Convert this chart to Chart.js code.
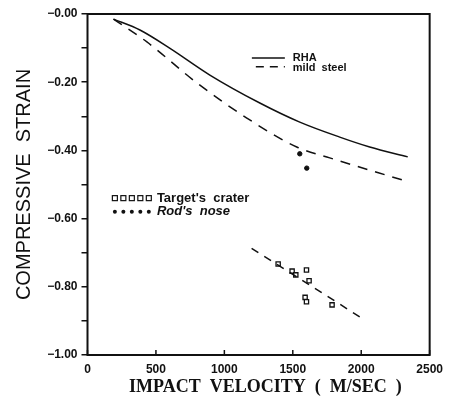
<!DOCTYPE html>
<html>
<head>
<meta charset="utf-8">
<script src="https://cdn.jsdelivr.net/npm/chart.js@4"></script>
<style>
  html, body { margin: 0; padding: 0; background: #fff; }
  canvas { display: block; }
</style>
</head>
<body>
<canvas id="strainChart" width="450" height="407"></canvas>
<script>
// values
const rhaVelocity = [190, 383, 600, 894, 1259, 1551, 1843, 2062, 2340];
const rhaStrain = [-0.015, -0.047, -0.1, -0.179, -0.261, -0.317, -0.361, -0.39, -0.419];

const mildVelocity = [190, 434, 799, 1164, 1529, 1770, 2303];
const mildStrain = [-0.015, -0.082, -0.202, -0.305, -0.39, -0.422, -0.487];

const craterVelocity = [1393, 1495, 1522, 1600, 1619, 1590, 1600, 1787];
const craterStrain = [-0.733, -0.754, -0.765, -0.751, -0.782, -0.831, -0.844, -0.853];

const craterFitVelocity = [1199, 1989];
const craterFitStrain = [-0.687, -0.888];

const noseVelocity = [1551, 1602];
const noseStrain = [-0.41, -0.452];

const xTickValues = [0, 500, 1000, 1500, 2000, 2500];
const xTickLabels = ['0', '500', '1000', '1500', '2000', '2500'];
const yTickValues = [0, -0.2, -0.4, -0.6, -0.8, -1.0];
const yTickLabels = ['\u22120.00', '\u22120.20', '\u22120.40', '\u22120.60', '\u22120.80', '\u22121.00'];

function pts(xs, ys) {
  return xs.map((x, i) => ({ x: x, y: ys[i] }));
}

const ink = '#111';

// frame, inward x ticks and the two in-plot legends
const decor = {
  id: 'decor',
  afterDatasetsDraw(chart) {
    const ctx = chart.ctx;
    const a = chart.chartArea;
    const xs = chart.scales.x, ys = chart.scales.y;
    ctx.save();
    ctx.strokeStyle = ink;
    ctx.lineWidth = 2;
    ctx.strokeRect(a.left, a.top, a.right - a.left, a.bottom - a.top);

    ctx.lineWidth = 1.5;
    xTickValues.forEach(v => {
      const px = xs.getPixelForValue(v);
      ctx.beginPath();
      ctx.moveTo(px, a.bottom);
      ctx.lineTo(px, a.bottom - 5);
      ctx.stroke();
    });

    // line legend
    ctx.fillStyle = ink;
    ctx.textBaseline = 'middle';
    ctx.font = 'bold 11px "Liberation Sans", Arial, sans-serif';
    ctx.lineWidth = 1.5;
    let y1 = ys.getPixelForValue(-0.129), y2 = ys.getPixelForValue(-0.155);
    ctx.beginPath();
    ctx.moveTo(xs.getPixelForValue(1201), y1);
    ctx.lineTo(xs.getPixelForValue(1442), y1);
    ctx.stroke();
    ctx.setLineDash([8, 6]);
    ctx.beginPath();
    ctx.moveTo(xs.getPixelForValue(1230), y2);
    ctx.lineTo(xs.getPixelForValue(1442), y2);
    ctx.stroke();
    ctx.setLineDash([]);
    ctx.fillText('RHA', xs.getPixelForValue(1500), y1);
    ctx.fillText('mild  steel', xs.getPixelForValue(1500), y2 + 1);

    // marker legend
    const ly1 = ys.getPixelForValue(-0.54), ly2 = ys.getPixelForValue(-0.58);
    for (let i = 0; i < 5; i++) {
      const px = xs.getPixelForValue(200 + i * 62);
      ctx.lineWidth = 1.2;
      ctx.strokeRect(px - 2.5, ly1 - 2.5, 5, 5);
      ctx.beginPath();
      ctx.arc(px, ly2, 2, 0, Math.PI * 2);
      ctx.fill();
    }
    ctx.font = 'bold 13px "Liberation Sans", Arial, sans-serif';
    ctx.fillText("Target's  crater", xs.getPixelForValue(507), ly1);
    ctx.font = 'italic bold 13px "Liberation Sans", Arial, sans-serif';
    ctx.fillText("Rod's  nose", xs.getPixelForValue(507), ly2);
    ctx.restore();
  }
};

new Chart(document.getElementById('strainChart'), {
  type: 'scatter',
  data: {
    datasets: [
      {
        label: 'RHA',
        data: pts(rhaVelocity, rhaStrain),
        showLine: true,
        borderColor: ink,
        borderWidth: 1.5,
        pointRadius: 0,
        cubicInterpolationMode: 'monotone'
      },
      {
        label: 'mild steel',
        data: pts(mildVelocity, mildStrain),
        showLine: true,
        borderColor: ink,
        borderWidth: 1.5,
        borderDash: [10, 8],
        pointRadius: 0,
        cubicInterpolationMode: 'monotone'
      },
      {
        label: 'crater fit',
        data: pts(craterFitVelocity, craterFitStrain),
        showLine: true,
        borderColor: ink,
        borderWidth: 1.5,
        borderDash: [8, 7],
        pointRadius: 0
      },
      {
        label: "Target's crater",
        data: pts(craterVelocity, craterStrain),
        pointStyle: 'rect',
        pointRadius: 3,
        borderColor: ink,
        borderWidth: 1.3,
        backgroundColor: '#fff'
      },
      {
        label: "Rod's nose",
        data: pts(noseVelocity, noseStrain),
        pointStyle: 'circle',
        pointRadius: 2.2,
        borderColor: ink,
        backgroundColor: ink
      }
    ]
  },
  options: {
    responsive: false,
    animation: false,
    layout: { padding: { left: 0, top: 14, right: 20, bottom: 0 } },
    plugins: { legend: { display: false }, tooltip: { enabled: false } },
    scales: {
      x: {
        type: 'linear',
        min: 0,
        max: 2500,
        afterFit: s => { s.height = 52; },
        afterBuildTicks: s => { s.ticks = xTickValues.map(v => ({ value: v })); },
        border: { display: false },
        grid: { drawOnChartArea: false, drawTicks: false },
        ticks: {
          padding: 7,
          color: ink,
          maxRotation: 0,
          font: { family: '"Liberation Sans", Arial, sans-serif', weight: 'bold', size: 12 },
          callback: v => {
            const i = xTickValues.indexOf(v);
            return i >= 0 ? xTickLabels[i] : '';
          }
        },
        title: {
          display: true,
          text: '   IMPACT  VELOCITY  (  M/SEC  )',
          color: ink,
          padding: { top: 0, bottom: 9 },
          font: { family: '"Liberation Serif", "Times New Roman", serif', weight: 'bold', size: 18 }
        }
      },
      y: {
        type: 'linear',
        min: -1,
        max: 0,
        afterFit: s => { s.width = 87.5; },
        afterBuildTicks: s => {
          const t = [];
          for (let k = 0; k <= 10; k++) t.push({ value: -k / 10 });
          s.ticks = t;
        },
        border: { display: false },
        grid: { drawOnChartArea: false, drawTicks: true, tickLength: 6, color: ink, lineWidth: 1.5 },
        ticks: {
          padding: 4,
          color: ink,
          font: { family: '"Liberation Sans", Arial, sans-serif', weight: 'bold', size: 12 },
          callback: v => {
            const i = yTickValues.findIndex(t => Math.abs(t - v) < 1e-6);
            return i >= 0 ? yTickLabels[i] : '';
          }
        },
        title: {
          display: true,
          text: 'COMPRESSIVE  STRAIN',
          color: ink,
          padding: { top: 12, bottom: 0 },
          font: { family: '"Liberation Sans", Arial, sans-serif', weight: 'normal', size: 20 }
        }
      }
    }
  },
  plugins: [decor]
});
</script>
</body>
</html>
